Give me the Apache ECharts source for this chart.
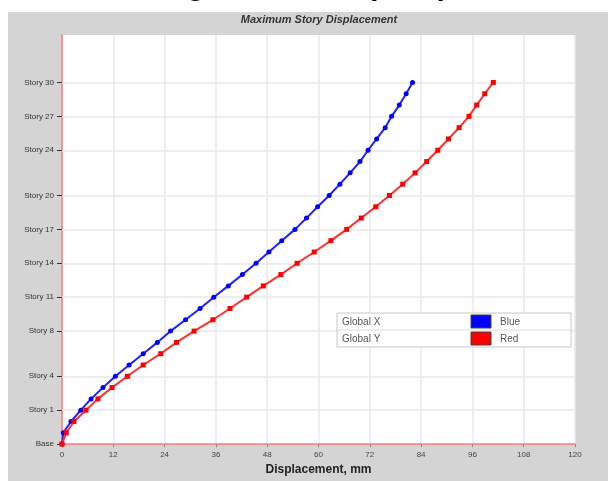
<!DOCTYPE html>
<html>
<head>
<meta charset="utf-8">
<script src="https://cdn.jsdelivr.net/npm/echarts@6/dist/echarts.min.js"></script>
<style>
  html, body { margin: 0; padding: 0; background: #fff; }
  #chart { width: 608px; height: 481px; }
</style>
</head>
<body>
<div id="chart"></div>
<script>
// level index of every output point (Base = 0, Story 1 = 3, Story 30 = 32)
const levels = [0, 1, 2, 3, 4, 5, 6, 7, 8, 9, 10, 11, 12, 13, 14, 15, 16,
  17, 18, 19, 20, 21, 22, 23, 24, 25, 26, 27, 28, 29, 30, 31, 32];

// displacement, mm
const globalX = [0, 0.3, 2.1, 4.4, 6.8, 9.6, 12.5, 15.7, 19.0, 22.3, 25.4, 28.9,
  32.3, 35.5, 38.9, 42.2, 45.4, 48.4, 51.4, 54.5, 57.2, 59.8, 62.5, 65.0, 67.4,
  69.7, 71.6, 73.6, 75.6, 77.1, 78.9, 80.5, 82.0];
const globalY = [0, 1.0, 2.8, 5.6, 8.4, 11.7, 15.3, 19.0, 23.1, 26.8, 30.9, 35.3,
  39.3, 43.2, 47.1, 51.2, 55.0, 59.0, 62.9, 66.6, 70.0, 73.4, 76.6, 79.7, 82.6,
  85.3, 87.9, 90.4, 92.9, 95.2, 97.0, 98.9, 100.9];

// labelled storeys on the vertical axis
const storyTicks = [0, 3, 6, 10, 13, 16, 19, 22, 26, 29, 32];
const storyNames = ['Base', 'Story 1', 'Story 4', 'Story 8', 'Story 11', 'Story 14',
  'Story 17', 'Story 20', 'Story 24', 'Story 27', 'Story 30'];

const legendRows = [
  { name: 'Global X', color: '#0000ff', label: 'Blue' },
  { name: 'Global Y', color: '#ff0000', label: 'Red' }
];

const font = 'Liberation Sans';
const gridColor = '#e8e8e8';
const chart = echarts.init(document.getElementById('chart'));

const legendGraphics = [
  { type: 'rect', shape: { x: 337, y: 313, width: 234, height: 34 },
    style: { fill: '#fff', stroke: '#c8c8c8', lineWidth: 1 } },
  { type: 'line', shape: { x1: 337, y1: 330, x2: 571, y2: 330 },
    style: { stroke: '#dcdcdc', lineWidth: 1 } }
];
legendRows.forEach((r, i) => {
  const y = 314 + i * 17;
  legendGraphics.push(
    { type: 'text', x: 342, y: y + 8,
      style: { text: r.name, fill: '#555', font: '10px ' + font, verticalAlign: 'middle' } },
    { type: 'rect', shape: { x: 471, y: y + 1, width: 20, height: 13 },
      style: { fill: r.color, stroke: '#444', lineWidth: 1 } },
    { type: 'text', x: 500, y: y + 8,
      style: { text: r.label, fill: '#555', font: '10px ' + font, verticalAlign: 'middle' } }
  );
});

chart.setOption({
  backgroundColor: '#d4d4d4',
  animation: false,
  graphic: [
    { type: 'rect', shape: { x: 0, y: 0, width: 608, height: 12 }, style: { fill: '#fff' } },
    { type: 'rect', shape: { x: 0, y: 0, width: 8, height: 481 }, style: { fill: '#fff' } },
    // caption of the page above, cut off at the top edge
    { type: 'text', x: 160, y: 2,
      style: { text: 'Fig Drift Ratio (X&Y)', fill: '#000',
        font: 'bold 30px ' + font, verticalAlign: 'bottom' } },
    { type: 'text', x: 319, y: 20,
      style: { text: 'Maximum Story Displacement', fill: '#333',
        font: 'italic bold 11px ' + font, align: 'center', verticalAlign: 'middle' } },
    ...legendGraphics.map(g => Object.assign({ z: 100 }, g))
  ],
  grid: {
    left: 62, right: 33, top: 35, bottom: 32,
    show: true, backgroundColor: '#fff', borderWidth: 0
  },
  xAxis: {
    type: 'value', min: 0, max: 120, interval: 12,
    name: 'Displacement, mm', nameLocation: 'middle', nameGap: 18,
    nameTextStyle: { fontFamily: font, fontWeight: 'bold', fontSize: 12, color: '#222' },
    axisLine: { show: true, onZero: false, lineStyle: { color: '#ff7878', width: 1.5 } },
    axisTick: { show: true, length: 3, lineStyle: { color: '#888' } },
    axisLabel: { fontFamily: font, fontSize: 8, color: '#444', margin: 7 },
    splitLine: { show: true, lineStyle: { color: gridColor, width: 1.5 } }
  },
  yAxis: {
    type: 'value', min: 0, max: 36.2,
    axisLine: { show: true, onZero: false, lineStyle: { color: '#ff7878', width: 1.5 } },
    axisTick: { show: true, length: 5, customValues: storyTicks, lineStyle: { color: '#333' } },
    axisLabel: {
      customValues: storyTicks, fontFamily: font, fontSize: 8, color: '#333', margin: 8,
      formatter: v => storyNames[storyTicks.indexOf(v)] || ''
    },
    splitLine: { show: false }
  },
  series: [
    {
      // horizontal grid lines at the labelled storeys
      type: 'line', data: [], z: 1, silent: true,
      markLine: {
        z: 1, silent: true, symbol: ['none', 'none'], label: { show: false },
        lineStyle: { color: gridColor, width: 1.5, type: 'solid' },
        data: storyTicks.filter(v => v > 0).map(v => ({ yAxis: v }))
      }
    },
    {
      name: 'Global X', type: 'line',
      data: globalX.map((x, i) => [x, levels[i]]),
      symbol: 'circle', symbolSize: 5, z: 10,
      lineStyle: { color: '#2020ff', width: 2 },
      itemStyle: { color: '#0000ff' }
    },
    {
      name: 'Global Y', type: 'line',
      data: globalY.map((x, i) => [x, levels[i]]),
      symbol: 'rect', symbolSize: 5, z: 11,
      lineStyle: { color: '#ff3030', width: 2 },
      itemStyle: { color: '#ff0000' }
    }
  ]
});
</script>
</body>
</html>
